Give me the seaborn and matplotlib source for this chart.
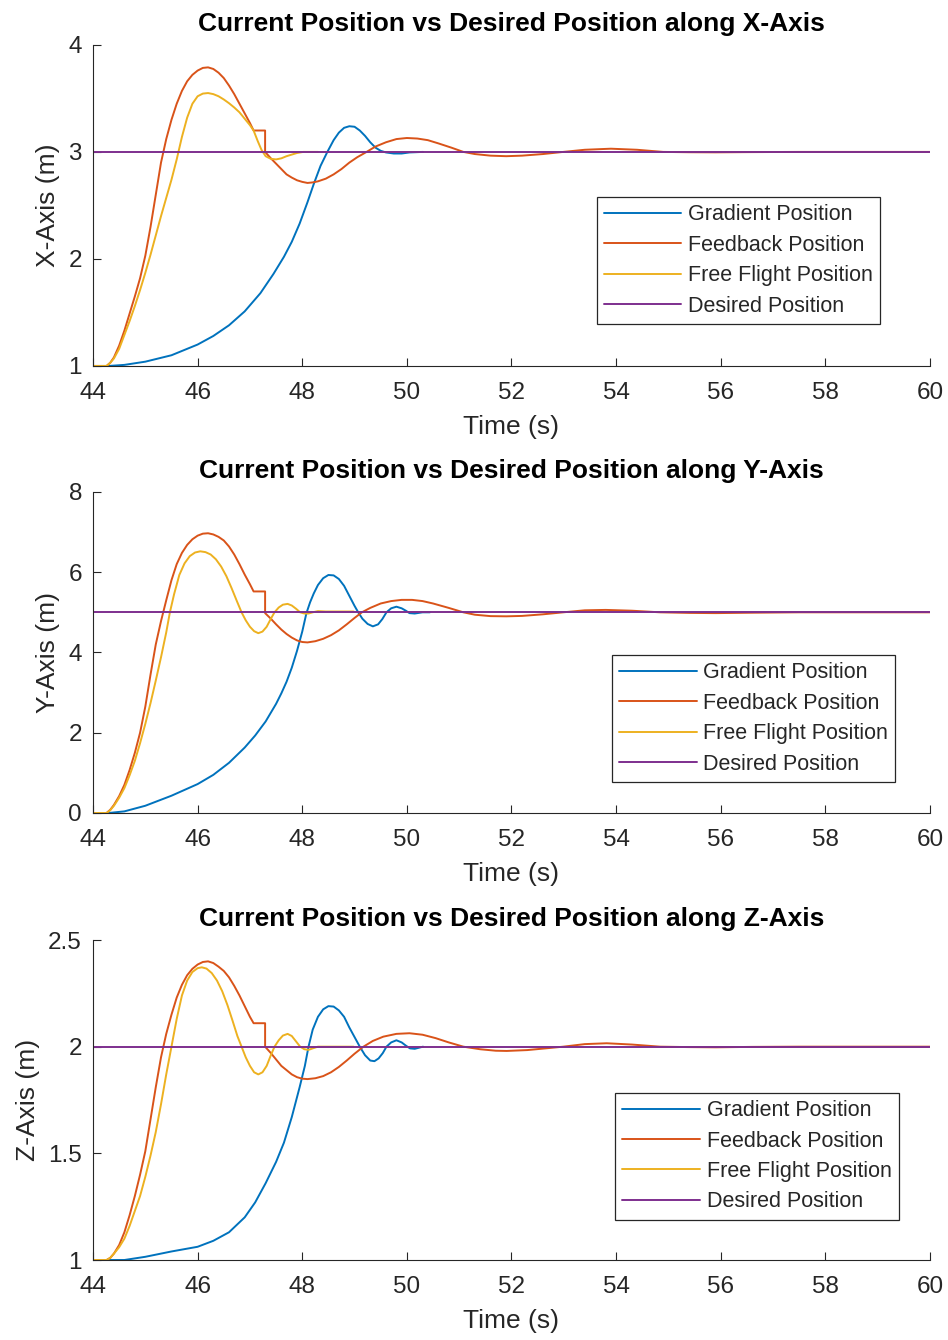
import matplotlib
matplotlib.use("Agg")
import matplotlib.pyplot as plt
import seaborn as sns

# ---------------- X axis ----------------
x_grad_t = [44.0, 44.3, 44.6, 45.0, 45.5, 46.0, 46.3, 46.6, 46.9, 47.2, 47.45, 47.65, 47.8,
            47.95, 48.1, 48.22, 48.35, 48.48, 48.6, 48.7, 48.8, 48.9, 49.0, 49.1, 49.2, 49.3,
            49.4, 49.5, 49.6, 49.75, 49.9, 50.05, 50.31]
x_grad = [1.0, 1.0, 1.01, 1.04, 1.1, 1.2, 1.28, 1.38, 1.51, 1.68, 1.86, 2.02, 2.16,
          2.33, 2.53, 2.7, 2.87, 3.0, 3.11, 3.18, 3.225, 3.24, 3.235, 3.2, 3.15, 3.09,
          3.04, 3.01, 2.995, 2.985, 2.985, 2.995, 3.0]

x_fb_t = [44.0, 44.26, 44.33, 44.4, 44.5, 44.6, 44.7, 44.8, 44.9, 45.0, 45.1, 45.2, 45.3,
          45.4, 45.5, 45.6, 45.7, 45.8, 45.9, 46.0, 46.1, 46.2, 46.3, 46.4, 46.5, 46.6,
          46.7, 46.8, 46.9, 47.0, 47.07, 47.29, 47.29, 47.4, 47.5, 47.6, 47.7, 47.8, 47.9,
          48.0, 48.1, 48.2, 48.3, 48.45, 48.6, 48.75, 48.9, 49.05, 49.23, 49.4, 49.6, 49.8,
          50.0, 50.2, 50.4, 50.6, 50.85, 51.08, 51.3, 51.6, 51.9, 52.2, 52.6, 52.99, 53.4,
          53.9, 54.4, 54.9, 55.4, 55.9, 56.5, 57.5, 60.0]
x_fb = [1.0, 1.0, 1.03, 1.08, 1.19, 1.33, 1.49, 1.65, 1.82, 2.03, 2.3, 2.6, 2.9,
        3.12, 3.3, 3.45, 3.57, 3.66, 3.72, 3.76, 3.785, 3.79, 3.775, 3.74, 3.69, 3.62,
        3.54, 3.45, 3.36, 3.27, 3.2, 3.2, 3.0, 2.94, 2.89, 2.84, 2.79, 2.76, 2.735,
        2.72, 2.71, 2.715, 2.725, 2.75, 2.79, 2.84, 2.9, 2.95, 3.0, 3.05, 3.09, 3.12,
        3.13, 3.125, 3.11, 3.08, 3.04, 3.0, 2.98, 2.965, 2.96, 2.965, 2.98, 3.0, 3.02,
        3.03, 3.02, 3.0, 2.997, 2.996, 2.998, 3.0, 3.0]

x_ff_t = [44.0, 44.26, 44.33, 44.4, 44.5, 44.6, 44.7, 44.8, 44.9, 45.0, 45.1, 45.2, 45.3,
          45.4, 45.5, 45.6, 45.7, 45.8, 45.9, 46.0, 46.1, 46.2, 46.3, 46.4, 46.5, 46.6,
          46.7, 46.8, 46.9, 47.0, 47.07, 47.15, 47.22, 47.3, 47.4, 47.5, 47.6, 47.7, 47.8,
          47.9, 48.02, 48.3]
x_ff = [1.0, 1.0, 1.03, 1.07, 1.16, 1.29, 1.42, 1.56, 1.71, 1.87, 2.04, 2.22, 2.4,
        2.57, 2.74, 2.93, 3.14, 3.32, 3.45, 3.52, 3.545, 3.55, 3.54, 3.52, 3.49, 3.455,
        3.415, 3.37, 3.31, 3.25, 3.2, 3.1, 3.02, 2.96, 2.935, 2.93, 2.94, 2.96, 2.975,
        2.99, 3.0, 3.0]

x_desired = [3.0, 3.0]

# ---------------- Y axis ----------------
y_grad_t = [44.0, 44.3, 44.6, 45.0, 45.5, 46.0, 46.3, 46.6, 46.9, 47.1, 47.3, 47.5, 47.6,
            47.7, 47.8, 47.9, 48.0, 48.08, 48.15, 48.22, 48.3, 48.4, 48.5, 48.6, 48.7, 48.8,
            48.9, 49.0, 49.07, 49.15, 49.25, 49.35, 49.45, 49.53, 49.61, 49.7, 49.8, 49.9,
            49.98, 50.05, 50.15, 50.3, 50.44]
y_grad = [0.0, 0.0, 0.04, 0.18, 0.43, 0.72, 0.95, 1.25, 1.63, 1.93, 2.28, 2.72, 2.98,
          3.27, 3.62, 4.04, 4.52, 4.98, 5.25, 5.47, 5.68, 5.85, 5.93, 5.92, 5.83, 5.66,
          5.41, 5.16, 5.0, 4.84, 4.71, 4.65, 4.7, 4.83, 5.0, 5.1, 5.14, 5.1,
          5.04, 4.98, 4.97, 5.0, 5.0]

y_fb_t = [44.0, 44.26, 44.33, 44.4, 44.5, 44.6, 44.7, 44.8, 44.9, 45.0, 45.1, 45.2, 45.3,
          45.4, 45.5, 45.6, 45.7, 45.8, 45.9, 46.0, 46.1, 46.2, 46.3, 46.4, 46.5, 46.6,
          46.7, 46.8, 46.9, 47.0, 47.07, 47.29, 47.29, 47.4, 47.5, 47.6, 47.7, 47.8, 47.9,
          48.0, 48.1, 48.25, 48.4, 48.55, 48.7, 48.85, 49.0, 49.14, 49.3, 49.5, 49.7, 49.9,
          50.1, 50.3, 50.5, 50.8, 51.08, 51.3, 51.6, 51.9, 52.2, 52.6, 52.99, 53.4, 53.8,
          54.3, 54.84, 55.4, 55.9, 56.6, 57.5, 60.0]
y_fb = [0.0, 0.0, 0.08, 0.2, 0.42, 0.7, 1.07, 1.5, 2.0, 2.65, 3.45, 4.2, 4.78,
        5.3, 5.8, 6.2, 6.48, 6.68, 6.82, 6.91, 6.96, 6.97, 6.94, 6.88, 6.79, 6.64,
        6.44, 6.2, 5.94, 5.7, 5.52, 5.52, 4.98, 4.84, 4.7, 4.57, 4.46, 4.37, 4.3,
        4.26, 4.25, 4.28, 4.34, 4.43, 4.55, 4.7, 4.86, 5.0, 5.11, 5.22, 5.28, 5.31,
        5.31, 5.28, 5.22, 5.11, 5.0, 4.94, 4.905, 4.9, 4.91, 4.95, 5.0, 5.05, 5.06,
        5.04, 5.0, 4.985, 4.98, 4.99, 5.0, 5.0]

y_ff_t = [44.0, 44.26, 44.33, 44.4, 44.5, 44.6, 44.7, 44.8, 44.9, 45.0, 45.1, 45.2, 45.3,
          45.4, 45.47, 45.55, 45.65, 45.75, 45.85, 45.95, 46.05, 46.15, 46.25, 46.35, 46.45,
          46.55, 46.65, 46.75, 46.84, 46.92, 47.0, 47.08, 47.16, 47.24, 47.32, 47.4, 47.47,
          47.55, 47.63, 47.72, 47.8, 47.88, 47.96, 48.04, 48.12, 48.2, 48.3, 48.45, 48.98]
y_ff = [0.0, 0.0, 0.07, 0.18, 0.38, 0.62, 0.94, 1.3, 1.74, 2.22, 2.74, 3.3, 3.88,
        4.5, 5.0, 5.45, 5.93, 6.22, 6.4, 6.49, 6.52, 6.5, 6.44, 6.32, 6.14,
        5.9, 5.6, 5.28, 5.0, 4.8, 4.64, 4.53, 4.48, 4.52, 4.64, 4.84, 5.0,
        5.12, 5.19, 5.21, 5.17, 5.09, 5.0, 4.97, 4.97, 5.0, 5.03, 5.02, 5.02]

y_desired = [5.0, 5.0]

# ---------------- Z axis ----------------
z_grad_t = [44.0, 44.3, 44.6, 45.0, 45.5, 46.0, 46.3, 46.6, 46.9, 47.1, 47.3, 47.5, 47.65,
            47.8, 47.95, 48.05, 48.12, 48.2, 48.3, 48.4, 48.5, 48.6, 48.7, 48.8, 48.9, 49.0,
            49.1, 49.2, 49.3, 49.38, 49.46, 49.54, 49.61, 49.7, 49.8, 49.9, 49.98, 50.06,
            50.15, 50.31]
z_grad = [1.0, 1.0, 1.0, 1.015, 1.04, 1.062, 1.09, 1.13, 1.2, 1.27, 1.36, 1.46, 1.55,
          1.67, 1.81, 1.91, 2.0, 2.08, 2.14, 2.175, 2.19, 2.188, 2.17, 2.14, 2.09, 2.045,
          2.0, 1.96, 1.935, 1.932, 1.945, 1.97, 2.0, 2.02, 2.03, 2.02, 2.005, 1.992,
          1.99, 2.0]

z_fb_t = [44.0, 44.26, 44.33, 44.4, 44.5, 44.6, 44.7, 44.8, 44.9, 45.0, 45.1, 45.2, 45.3,
          45.4, 45.5, 45.6, 45.7, 45.8, 45.9, 46.0, 46.1, 46.2, 46.3, 46.4, 46.5, 46.6,
          46.7, 46.8, 46.9, 47.0, 47.07, 47.29, 47.29, 47.4, 47.5, 47.6, 47.7, 47.8, 47.9,
          48.0, 48.1, 48.25, 48.4, 48.55, 48.7, 48.85, 49.0, 49.17, 49.35, 49.55, 49.8,
          50.05, 50.3, 50.55, 50.8, 51.08, 51.4, 51.7, 51.91, 52.3, 52.65, 52.99, 53.4,
          53.82, 54.3, 54.84, 55.4, 55.9, 56.6, 57.5, 60.0]
z_fb = [1.0, 1.0, 1.01, 1.03, 1.07, 1.13, 1.21, 1.3, 1.4, 1.51, 1.66, 1.81, 1.95,
        2.06, 2.15, 2.23, 2.29, 2.335, 2.365, 2.385, 2.397, 2.4, 2.392, 2.375, 2.355, 2.325,
        2.285, 2.24, 2.19, 2.14, 2.11, 2.11, 2.0, 1.97, 1.94, 1.91, 1.89, 1.87, 1.857,
        1.85, 1.848, 1.852, 1.862, 1.88, 1.905, 1.935, 1.967, 2.0, 2.027, 2.047, 2.06,
        2.063, 2.056, 2.04, 2.02, 2.0, 1.988, 1.981, 1.98, 1.984, 1.992, 2.0, 2.012,
        2.016, 2.01, 2.0, 1.998, 1.997, 1.999, 2.0, 2.0]

z_ff_t = [44.0, 44.26, 44.33, 44.4, 44.5, 44.6, 44.7, 44.8, 44.9, 45.0, 45.1, 45.2, 45.3,
          45.4, 45.5, 45.6, 45.7, 45.8, 45.9, 46.0, 46.08, 46.17, 46.27, 46.37, 46.47, 46.57,
          46.67, 46.76, 46.84, 46.92, 47.0, 47.08, 47.16, 47.24, 47.32, 47.4, 47.47, 47.55,
          47.63, 47.72, 47.8, 47.88, 47.96, 48.04, 48.12, 48.2, 48.3, 48.98]
z_ff = [1.0, 1.0, 1.01, 1.03, 1.06, 1.1, 1.16, 1.23, 1.3, 1.39, 1.49, 1.6, 1.73,
        1.87, 2.0, 2.13, 2.24, 2.31, 2.35, 2.368, 2.372, 2.366, 2.345, 2.31, 2.26, 2.195,
        2.12, 2.05, 2.0, 1.95, 1.91, 1.88, 1.87, 1.88, 1.91, 1.96, 2.0, 2.03,
        2.052, 2.06, 2.05, 2.025, 2.0, 1.988, 1.985, 1.992, 2.0, 2.0]

z_desired = [2.0, 2.0]

# shared settings
desired_t = [44, 60]
time_ticks = [44, 46, 48, 50, 52, 54, 56, 58, 60]
series_names = ["Gradient Position", "Feedback Position", "Free Flight Position", "Desired Position"]
series_colors = ["#0072BD", "#D95319", "#EDB120", "#7E2F8E"]

panels = [
    dict(axis="X", grad=(x_grad_t, x_grad), fb=(x_fb_t, x_fb), ff=(x_ff_t, x_ff), des=x_desired,
         ylim=(1, 4), yticks=[1, 2, 3, 4], yticklabels=["1", "2", "3", "4"],
         rect=[0.0981, 0.7269, 0.8829, 0.2396], legend_at=(0.602, 0.526)),
    dict(axis="Y", grad=(y_grad_t, y_grad), fb=(y_fb_t, y_fb), ff=(y_ff_t, y_ff), des=y_desired,
         ylim=(0, 8), yticks=[0, 2, 4, 6, 8], yticklabels=["0", "2", "4", "6", "8"],
         rect=[0.0981, 0.3933, 0.8829, 0.2396], legend_at=(0.620, 0.492)),
    dict(axis="Z", grad=(z_grad_t, z_grad), fb=(z_fb_t, z_fb), ff=(z_ff_t, z_ff), des=z_desired,
         ylim=(1, 2.5), yticks=[1, 1.5, 2, 2.5], yticklabels=["1", "1.5", "2", "2.5"],
         rect=[0.0981, 0.0597, 0.8829, 0.2388], legend_at=(0.624, 0.522)),
]

sns.set_style("ticks")
ink = "#262626"
plt.rcParams.update({
    "font.family": ["Liberation Sans", "DejaVu Sans"],
    "xtick.direction": "in",
    "ytick.direction": "in",
    "axes.edgecolor": ink,
    "xtick.color": ink,
    "ytick.color": ink,
    "axes.labelcolor": ink,
    "text.color": ink,
})

fig = plt.figure(figsize=(9.48, 13.4), dpi=100)

for p in panels:
    ax = fig.add_axes(p["rect"])
    tracks = [p["grad"], p["fb"], p["ff"], (desired_t, p["des"])]
    for (t, v), name, col in zip(tracks, series_names, series_colors):
        sns.lineplot(x=t, y=v, ax=ax, color=col, label=name, sort=False,
                     estimator=None, linewidth=1.4)
    ax.set_xlim(44, 60)
    ax.set_ylim(*p["ylim"])
    ax.set_xticks(time_ticks)
    ax.set_xticklabels([str(v) for v in time_ticks])
    ax.set_yticks(p["yticks"])
    ax.set_yticklabels(p["yticklabels"])
    ax.tick_params(axis="both", labelsize=17.5, length=6, width=0.8, colors=ink)
    ax.tick_params(axis="x", pad=11.5)
    ax.tick_params(axis="y", pad=8)
    for s in ["left", "bottom"]:
        ax.spines[s].set_linewidth(0.8)
    sns.despine(ax=ax)
    ax.set_xlabel("Time (s)", fontsize=19, labelpad=8)
    ax.set_ylabel(f"{p['axis']}-Axis (m)", fontsize=19, labelpad=6)
    ax.set_title(f"Current Position vs Desired Position along {p['axis']}-Axis",
                 fontsize=19, fontweight="bold", color="black", pad=10)
    leg = ax.legend(loc="upper left", bbox_to_anchor=p["legend_at"], borderaxespad=0,
                    fontsize=15.5, handlelength=3.6, handletextpad=0.32, borderpad=0.33,
                    labelspacing=0.44, frameon=True, fancybox=False, framealpha=1)
    leg.get_frame().set_edgecolor(ink)
    leg.get_frame().set_linewidth(0.9)

fig.savefig("out.png", dpi=100)
